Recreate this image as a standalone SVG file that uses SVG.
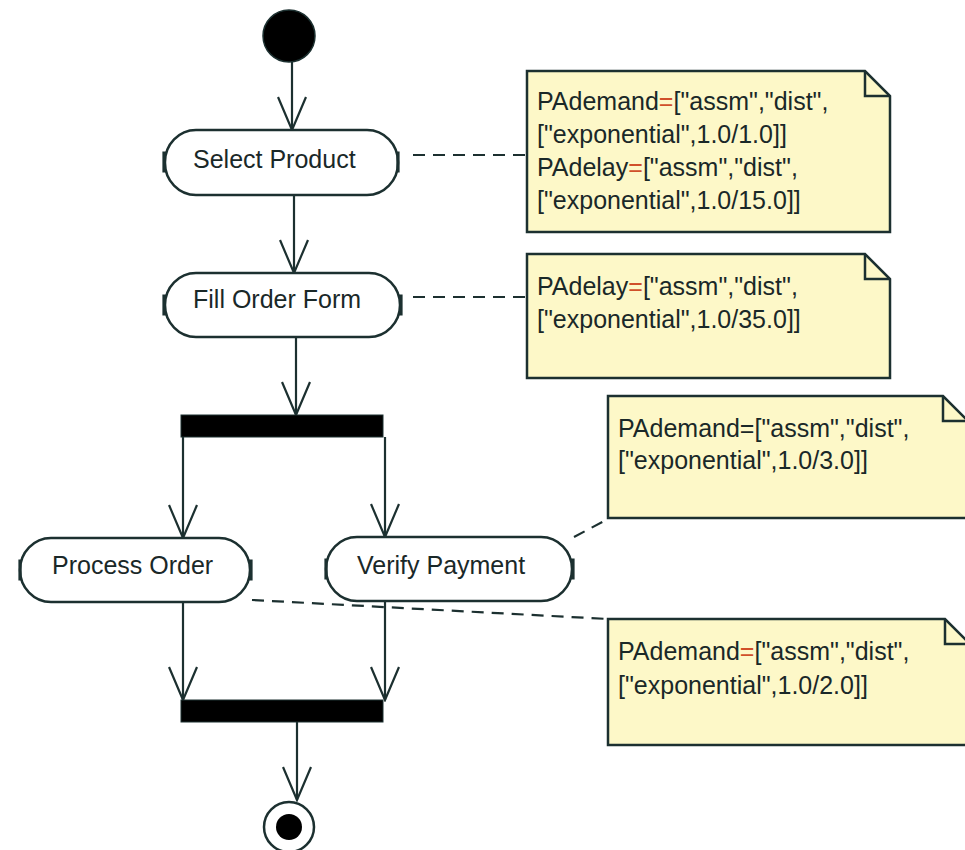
<svg xmlns="http://www.w3.org/2000/svg" width="965" height="850" viewBox="0 0 965 850">
<style>
.ln{stroke:#1c3030;stroke-width:2.2;fill:none}
.dash{stroke:#1c3030;stroke-width:2.2;fill:none;stroke-dasharray:12 8}
.act{fill:#fff;stroke:#1c3030;stroke-width:2.5}
.brk{stroke:#1c3030;stroke-width:3.2;fill:none}
.bar{fill:#000;stroke:#1c3030;stroke-width:1}
.note{fill:#fdf8c8;stroke:#1c3030;stroke-width:2.5}
.fold{fill:none;stroke:#1c3030;stroke-width:2.5}
.lbl{font-family:"Liberation Sans",Arial,sans-serif;font-size:25px;fill:#1a2828}
.eq{fill:#d0502a}
</style>
<defs>
<marker id="open" markerWidth="32" markerHeight="36" refX="15" refY="34" orient="0" markerUnits="userSpaceOnUse">
<path d="M1,1 L15,34 L29,1" fill="none" stroke="#1c3030" stroke-width="2.2"/>
</marker>
</defs>
<rect width="965" height="850" fill="#fff"/>

<g id="connectors">
<line class="ln" x1="292" y1="62" x2="292" y2="130" marker-end="url(#open)"/>
<line class="ln" x1="294" y1="195" x2="294" y2="273" marker-end="url(#open)"/>
<line class="ln" x1="296" y1="337" x2="296" y2="415" marker-end="url(#open)"/>
<line class="ln" x1="183" y1="437" x2="183" y2="538" marker-end="url(#open)"/>
<line class="ln" x1="385" y1="437" x2="385" y2="537" marker-end="url(#open)"/>
<line class="ln" x1="183" y1="602" x2="183" y2="700" marker-end="url(#open)"/>
<line class="ln" x1="385" y1="601" x2="385" y2="700" marker-end="url(#open)"/>
<line class="ln" x1="297" y1="722" x2="297" y2="800" marker-end="url(#open)"/>
<line class="dash" x1="413" y1="155" x2="527" y2="155"/>
<line class="dash" x1="413" y1="297" x2="527" y2="297"/>
<line class="dash" x1="574" y1="537" x2="608" y2="519"/>
<line class="dash" x1="252" y1="600" x2="608" y2="619"/>
</g>

<g id="initial">
<circle cx="289" cy="36" r="26" fill="#000" stroke="#1c3030" stroke-width="1.5"/>
</g>

<g id="select-product">
<rect class="act" x="165" y="130" width="233" height="65" rx="31" ry="32"/>
<path class="brk" d="M166,153 h-2 v18 h2 M396,153 h2 v18 h-2"/>
<text class="lbl" x="193" y="168">Select Product</text>
</g>

<g id="fill-order-form">
<rect class="act" x="165" y="273" width="235" height="64" rx="31" ry="32"/>
<path class="brk" d="M166,296 h-2 v18 h2 M399,296 h2 v18 h-2"/>
<text class="lbl" x="193" y="308">Fill Order Form</text>
</g>

<g id="fork">
<rect class="bar" x="181" y="415" width="202" height="22"/>
</g>

<g id="process-order">
<rect class="act" x="20" y="538" width="230" height="64" rx="31" ry="32"/>
<path class="brk" d="M22,561 h-2 v18 h2 M249,561 h2 v18 h-2"/>
<text class="lbl" x="52" y="574">Process Order</text>
</g>

<g id="verify-payment">
<rect class="act" x="326" y="537" width="246" height="64" rx="31" ry="32"/>
<path class="brk" d="M328,560 h-2 v18 h2 M571,560 h2 v18 h-2"/>
<text class="lbl" x="357" y="574">Verify Payment</text>
</g>

<g id="join">
<rect class="bar" x="181" y="700" width="202" height="22"/>
</g>

<g id="final">
<circle cx="289" cy="827" r="25" fill="#fff" stroke="#1c3030" stroke-width="2.5"/>
<circle cx="289" cy="827" r="13" fill="#000"/>
</g>

<g id="note1">
<path class="note" d="M527,71 H865 L890,96 V232 H527 Z"/>
<path class="fold" d="M865,71 V96 H890"/>
<text class="lbl" x="537" y="110">PAdemand<tspan class="eq">=</tspan>["assm","dist",</text>
<text class="lbl" x="537" y="143">["exponential",1.0/1.0]]</text>
<text class="lbl" x="537" y="176">PAdelay<tspan class="eq">=</tspan>["assm","dist",</text>
<text class="lbl" x="537" y="209">["exponential",1.0/15.0]]</text>
</g>

<g id="note2">
<path class="note" d="M527,254 H865 L890,279 V378 H527 Z"/>
<path class="fold" d="M865,254 V279 H890"/>
<text class="lbl" x="537" y="295">PAdelay<tspan class="eq">=</tspan>["assm","dist",</text>
<text class="lbl" x="537" y="328">["exponential",1.0/35.0]]</text>
</g>

<g id="note3">
<path class="note" d="M608,396 H943 L968,421 V518 H608 Z"/>
<path class="fold" d="M943,396 V421 H968"/>
<text class="lbl" x="618" y="437">PAdemand=["assm","dist",</text>
<text class="lbl" x="618" y="469">["exponential",1.0/3.0]]</text>
</g>

<g id="note4">
<path class="note" d="M608,619 H945 L970,644 V745 H608 Z"/>
<path class="fold" d="M945,619 V644 H970"/>
<text class="lbl" x="618" y="660">PAdemand<tspan class="eq">=</tspan>["assm","dist",</text>
<text class="lbl" x="618" y="694">["exponential",1.0/2.0]]</text>
</g>
</svg>
